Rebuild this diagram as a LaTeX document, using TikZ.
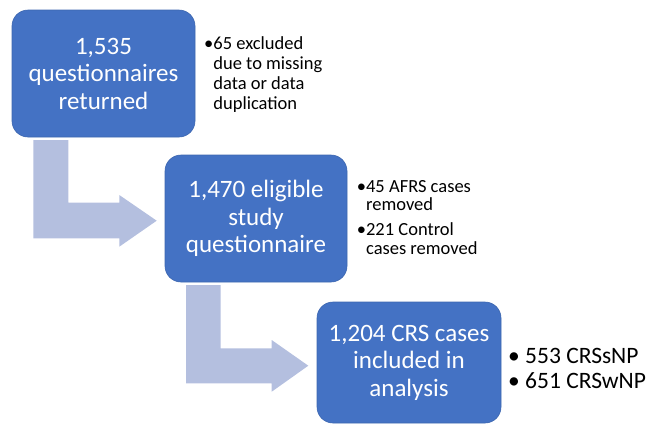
\documentclass[tikz,border=0pt]{standalone}
\usepackage{fontspec}
\setmainfont{Carlito}
\definecolor{boxblue}{HTML}{4472C4}
\definecolor{arrowlav}{HTML}{B4BFDF}
\begin{document}
\begin{tikzpicture}[x=1pt,y=-1pt,
  stagebox/.style={draw=boxblue!90!black, line width=0.6pt, fill=boxblue, rounded corners=16pt,
    text=white, align=center, inner sep=0pt, font=\fontsize{25}{27.5}\selectfont},
  sidenote/.style={anchor=north west, inner sep=0pt, align=left, text=black},
  bentarrow/.style={fill=arrowlav, draw=none}]
\useasboundingbox (0,0) rectangle (646,424);
% stage boxes
\node[stagebox, minimum width=183pt, minimum height=127pt] (b1) at (103.5,73.5) {1,535\\questionnaires\\returned};
\node[stagebox, minimum width=182pt, minimum height=127pt] (b2) at (256,218.5) {1,470 eligible\\study\\questionnaire};
\node[stagebox, minimum width=184pt, minimum height=121pt] (b3) at (409,362.5) {1,204 CRS cases\\included in\\analysis};
% bent arrows between the stages
\fill[bentarrow] (33.3,140) -- (68.3,140) -- (68.3,202.7) -- (119.3,202.7) -- (119.3,195)
  -- (156.7,220.7) -- (119.3,246.7) -- (119.3,238.3) -- (33.3,238.3) -- cycle;
\fill[bentarrow] (186,285) -- (220.7,285) -- (220.7,348.3) -- (271.7,348.3) -- (271.7,340)
  -- (308.3,365.7) -- (271.7,391.7) -- (271.7,383.3) -- (186,383.3) -- cycle;
% side notes
\node[sidenote, font=\fontsize{18.5}{20}\selectfont] (n1) at (204,36)
  {•65 excluded\\\hphantom{•}due to missing\\\hphantom{•}data or data\\\hphantom{•}duplication};
\node[sidenote, font=\fontsize{18.5}{18.5}\selectfont] (n2) at (356.7,180)
  {•45 AFRS cases\\\hphantom{•}removed\\[6.5pt]•221 Control\\\hphantom{•}cases removed};
\node[sidenote, font=\fontsize{23.5}{25}\selectfont] (n3) at (508,348)
  {• 553 CRSsNP\\• 651 CRSwNP};
\end{tikzpicture}
\end{document}
